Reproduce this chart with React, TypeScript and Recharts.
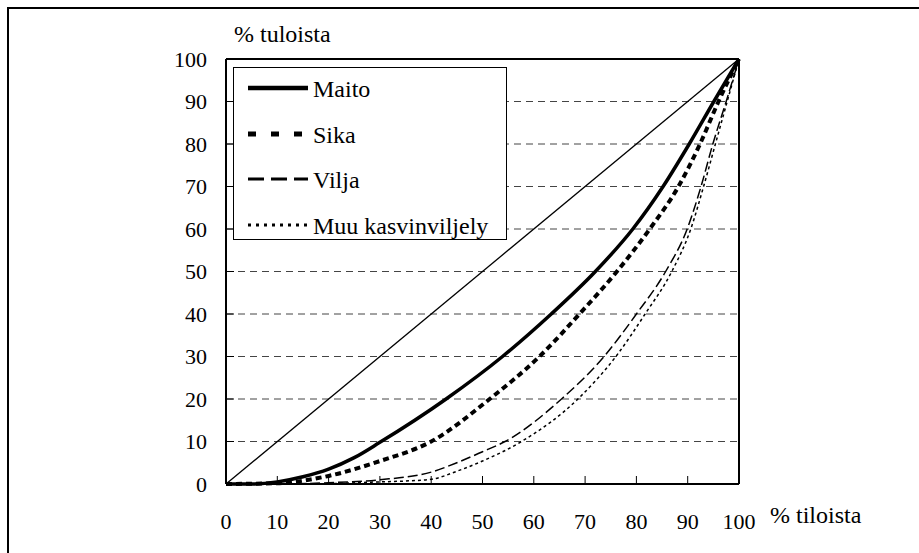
import React from 'react';
import { LineChart, Line, XAxis, YAxis, CartesianGrid, ReferenceLine, Legend, Label } from 'recharts';

// ---- data ----
const xTicks = [0, 10, 20, 30, 40, 50, 60, 70, 80, 90, 100];
const yTicks = [0, 10, 20, 30, 40, 50, 60, 70, 80, 90, 100];

const equalityX = [0, 100];
const equalityY = [0, 100];

const maitoX = [0, 5, 10, 15, 20, 25, 30, 42.9, 53.9, 63.4, 72, 79.3, 85.2, 90.3, 95.1, 100];
const maitoY = [0, 0, 0.5, 1.7, 3.5, 6.2, 9.8, 20, 30, 40, 50, 60, 70, 80, 90, 100];

const sikaX = [0, 10, 20, 30, 40, 51.4, 61.1, 68.9, 76.2, 82.6, 88.2, 92.4, 96, 100];
const sikaY = [0, 0.2, 1.9, 5.4, 10, 20, 30, 40, 50, 60, 70, 80, 90, 100];

const viljaX = [0, 10, 20, 30, 40, 45, 50, 54.4, 65.4, 73.7, 80, 85.7, 89.9, 92.6, 94.9, 97.5, 100];
const viljaY = [0, 0, 0.3, 1, 2.8, 5, 7.6, 10, 20, 30, 40, 50, 60, 70, 80, 90, 100];

const muuX = [0, 10, 20, 30, 35, 40, 45, 50, 57.6, 68.6, 76, 81.7, 86.9, 90.6, 93.1, 95.4, 97.7, 100];
const muuY = [0, 0, 0.1, 0.5, 0.7, 1.1, 3, 5.4, 10, 20, 30, 40, 50, 60, 70, 80, 90, 100];

const seriesNames = ['Maito', 'Sika', 'Vilja', 'Muu kasvinviljely'];
const xTitle = '% tiloista';
const yTitle = '% tuloista';

const toPoints = (xs: number[], ys: number[]) => xs.map((x, i) => ({ x, y: ys[i] }));

const seriesData = [
  toPoints(maitoX, maitoY),
  toPoints(sikaX, sikaY),
  toPoints(viljaX, viljaY),
  toPoints(muuX, muuY),
];

// ---- styles ----
const FONT = 'Liberation Serif, Times New Roman, serif';
const lineStyles: Record<string, { w: number; dash?: string; lw: number; ldash?: string }> = {
  'Maito': { w: 3.5, lw: 4.5 },
  'Sika': { w: 4, dash: '6 4', lw: 5, ldash: '8 15' },
  'Vilja': { w: 1.5, dash: '10 4', lw: 3, ldash: '16 7' },
  'Muu kasvinviljely': { w: 1.5, dash: '3 3', lw: 3, ldash: '3 5' },
};

const LegendBox = (props: any) => {
  const present = new Set((props.payload || []).map((p: any) => p.value));
  const items = seriesNames.filter((n) => present.has(n));
  const rows = [20, 66, 111, 157];
  return (
    <div style={{ width: 274, height: 173, boxSizing: 'border-box', border: '1px solid #000', background: '#fff' }}>
      <svg width={272} height={171} style={{ display: 'block' }}>
        {items.map((name: string, i: number) => {
          const st = lineStyles[name];
          const y = rows[i];
          return (
            <g key={name}>
              <line x1={14} x2={74} y1={y} y2={y} stroke="#000" strokeWidth={st.lw} strokeDasharray={st.ldash} />
              <text x={79} y={y + 9} fontFamily={FONT} fontSize={24} fill="#000">{name}</text>
            </g>
          );
        })}
      </svg>
    </div>
  );
};

const tickStyle = { fontSize: 22, fill: '#000', fontFamily: FONT };

export default function App() {
  return (
    <div style={{ position: 'absolute', left: 0, top: 0, width: 919, height: 553, background: '#fff' }}>
      <div style={{ position: 'absolute', left: 7, top: 7, width: 912, height: 546, boxSizing: 'border-box', borderLeft: '2px solid #000', borderTop: '2px solid #000' }} />
      <div style={{ position: 'absolute', left: 0, top: 0 }}>
        <LineChart width={919} height={553} margin={{ top: 59, right: 180, bottom: 0, left: 0 }}>
          <CartesianGrid horizontal vertical={false} stroke="#444" strokeDasharray="7 5" />
          <XAxis
            type="number"
            dataKey="x"
            domain={[0, 100]}
            ticks={xTicks}
            height={69}
            axisLine={{ stroke: '#000', strokeWidth: 2 }}
            tickLine={{ stroke: '#000', strokeWidth: 1 }}
            tickSize={-8}
            tickMargin={37}
            tick={tickStyle}
            interval={0}
          >
            <Label
              content={(p: any) => {
                const vb = p.viewBox || { x: 226, y: 484, width: 513 };
                return (
                  <text x={vb.x + vb.width + 31} y={vb.y + 39} fontFamily={FONT} fontSize={24} fill="#000">{xTitle}</text>
                );
              }}
            />
          </XAxis>
          <YAxis
            type="number"
            dataKey="y"
            domain={[0, 100]}
            ticks={yTicks}
            width={226}
            axisLine={{ stroke: '#000', strokeWidth: 2 }}
            tickLine={{ stroke: '#000', strokeWidth: 1 }}
            tickSize={-8}
            tickMargin={27}
            tick={tickStyle}
            interval={0}
          >
            <Label
              content={(p: any) => {
                const vb = p.viewBox || { x: 0, y: 59, width: 226 };
                return (
                  <text x={vb.x + vb.width + 8} y={vb.y - 17} fontFamily={FONT} fontSize={24} fill="#000">{yTitle}</text>
                );
              }}
            />
          </YAxis>
          <ReferenceLine y={100} stroke="#000" strokeWidth={2} />
          <ReferenceLine x={100} stroke="#000" strokeWidth={2} />
          <Line
            data={toPoints(equalityX, equalityY)}
            dataKey="y"
            name="equality"
            type="linear"
            stroke="#000"
            strokeWidth={1.3}
            dot={false}
            legendType="none"
            isAnimationActive={false}
          />
          {seriesNames.map((name, i) => (
            <Line
              key={name}
              data={seriesData[i]}
              dataKey="y"
              name={name}
              type="monotone"
              stroke="#000"
              strokeWidth={lineStyles[name].w}
              strokeDasharray={lineStyles[name].dash}
              dot={false}
              isAnimationActive={false}
            />
          ))}
          <Legend
            layout="vertical"
            align="center"
            verticalAlign="middle"
            content={<LegendBox />}
            wrapperStyle={{ position: 'absolute', left: 233, top: 67, width: 274, height: 173 }}
          />
        </LineChart>
      </div>
    </div>
  );
}
